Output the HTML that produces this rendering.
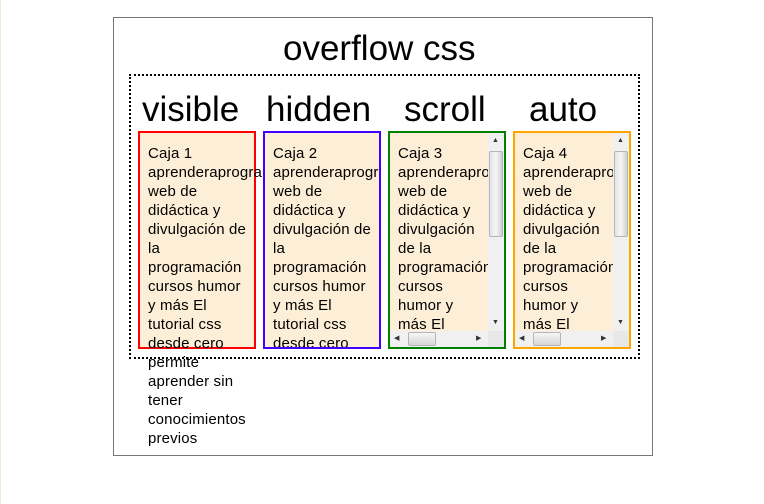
<!DOCTYPE html>
<html><head><meta charset="utf-8"><style>
*{margin:0;padding:0;box-sizing:border-box}
body{width:764px;height:504px;background:#fff;position:relative;overflow:hidden;font-family:"Liberation Sans",sans-serif;color:#000}
.abs{position:absolute}
.lbl{position:absolute;font-size:35px;line-height:35px;white-space:nowrap}
.box{position:absolute;top:131px;width:118px;height:218px;border:2px solid;background:#fdefd7}
.txt{position:absolute;left:8px;top:11px;font-size:15px;line-height:19px;white-space:nowrap;letter-spacing:0.15px}
.clip{position:absolute;left:0;top:0;right:0;bottom:0;overflow:hidden}
.vs{position:absolute;right:0;top:0;width:16px;height:198px;background:#f0f0f0}
.hs{position:absolute;left:0;bottom:0;width:98px;height:16px;background:#f0f0f0}
.corner{position:absolute;right:0;bottom:0;width:16px;height:16px;background:#e8e8e8}
.vth{position:absolute;left:1px;top:18px;width:14px;height:86px;background:linear-gradient(90deg,#e4e4e4,#f6f6f6,#cfcfcf);border:1px solid #b5b5b5;border-radius:2px}
.hth{position:absolute;left:18px;top:1px;width:28px;height:14px;background:linear-gradient(#f6f6f6,#d6d6d6);border:1px solid #b5b5b5;border-radius:2px}
.ar{position:absolute;font-size:7px;color:#333;line-height:8px}
</style></head><body>
<div class="abs" style="left:0;top:0;width:1px;height:504px;background:#e4ecd8"></div>
<div class="abs" style="left:113px;top:17px;width:540px;height:439px;border:1px solid #777"></div>
<div class="lbl" style="left:283px;top:31px">overflow css</div>
<div class="abs" style="left:129px;top:74px;width:511px;height:285px;border:2px dotted #000"></div>
<div class="lbl" style="left:142px;top:92px">visible</div>
<div class="lbl" style="left:266px;top:92px">hidden</div>
<div class="lbl" style="left:404px;top:92px">scroll</div>
<div class="lbl" style="left:529px;top:92px">auto</div>

<div class="box" style="left:138px;border-color:#f00">
<div class="txt">Caja 1<br>aprenderaprogra<br>web de<br>didáctica y<br>divulgación de<br>la<br>programación<br>cursos humor<br>y más El<br>tutorial css<br>desde cero<br>permite<br>aprender sin<br>tener<br>conocimientos<br>previos</div>
</div>
<div class="box" style="left:263px;border-color:#4400ff">
<div class="clip"><div class="txt">Caja 2<br>aprenderaprogr<br>web de<br>didáctica y<br>divulgación de<br>la<br>programación<br>cursos humor<br>y más El<br>tutorial css<br>desde cero<br>permite</div></div>
</div>
<div class="box" style="left:388px;border-color:#008000">
<div class="clip" style="right:16px;bottom:16px"><div class="txt">Caja 3<br>aprenderaprog<br>web de<br>didáctica y<br>divulgación<br>de la<br>programación<br>cursos<br>humor y<br>más El<br>tutorial</div></div>
<div class="vs"><span class="ar" style="left:4px;top:4px">▲</span><div class="vth"></div><span class="ar" style="left:4px;top:186px">▼</span></div>
<div class="hs"><span class="ar" style="left:4px;top:4px">◀</span><div class="hth"></div><span class="ar" style="left:86px;top:4px">▶</span></div>
<div class="corner"></div>
</div>
<div class="box" style="left:513px;border-color:#ffa500">
<div class="clip" style="right:16px;bottom:16px"><div class="txt">Caja 4<br>aprenderaprog<br>web de<br>didáctica y<br>divulgación<br>de la<br>programación<br>cursos<br>humor y<br>más El<br>tutorial</div></div>
<div class="vs"><span class="ar" style="left:4px;top:4px">▲</span><div class="vth"></div><span class="ar" style="left:4px;top:186px">▼</span></div>
<div class="hs"><span class="ar" style="left:4px;top:4px">◀</span><div class="hth"></div><span class="ar" style="left:86px;top:4px">▶</span></div>
<div class="corner"></div>
</div>
</body></html>
